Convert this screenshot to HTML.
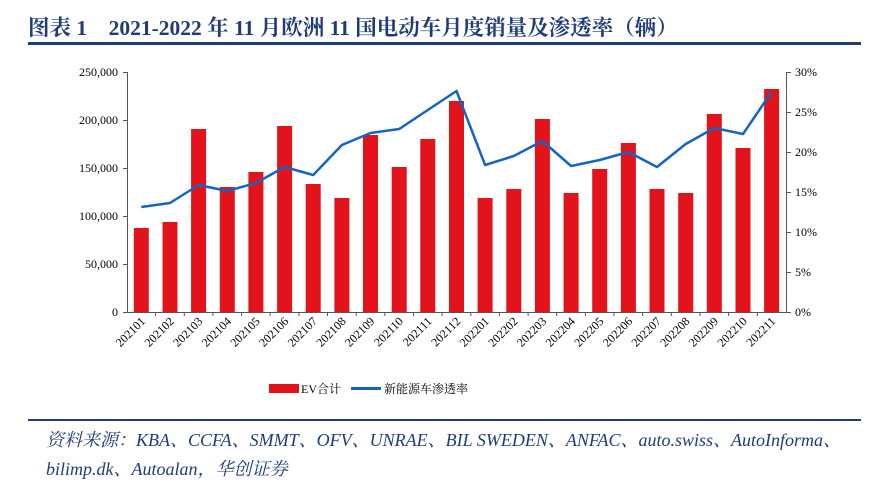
<!DOCTYPE html>
<html><head><meta charset="utf-8"><style>
body{margin:0;background:#fff;width:886px;height:494px;overflow:hidden}
svg{display:block}
.t{font-family:"Liberation Serif","Noto Serif CJK SC",serif;font-size:12px;fill:#000}
</style></head><body>
<svg width="886" height="494" xmlns="http://www.w3.org/2000/svg">
<text x="28" y="35" font-family="'Liberation Serif','Noto Serif CJK SC',serif" font-size="21.5" font-weight="bold" fill="#1f3c78">图表 1　2021-2022 年 11 月欧洲 11 国电动车月度销量及渗透率（辆）</text>
<rect x="28" y="42" width="833" height="3" fill="#1f3c78"/>
<g fill="#e3131b">
<rect x="133.8" y="228" width="15" height="84"/>
<rect x="162.5" y="222" width="15" height="90"/>
<rect x="191.1" y="129" width="15" height="183"/>
<rect x="219.8" y="187" width="15" height="125"/>
<rect x="248.4" y="172" width="15" height="140"/>
<rect x="277.1" y="126" width="15" height="186"/>
<rect x="305.7" y="184" width="15" height="128"/>
<rect x="334.4" y="198" width="15" height="114"/>
<rect x="363" y="135" width="15" height="177"/>
<rect x="391.7" y="167" width="15" height="145"/>
<rect x="420.3" y="139" width="15" height="173"/>
<rect x="449" y="101" width="15" height="211"/>
<rect x="477.6" y="198" width="15" height="114"/>
<rect x="506.3" y="189" width="15" height="123"/>
<rect x="534.9" y="119" width="15" height="193"/>
<rect x="563.6" y="193" width="15" height="119"/>
<rect x="592.2" y="169" width="15" height="143"/>
<rect x="620.9" y="143" width="15" height="169"/>
<rect x="649.5" y="189" width="15" height="123"/>
<rect x="678.2" y="193" width="15" height="119"/>
<rect x="706.8" y="114" width="15" height="198"/>
<rect x="735.5" y="148" width="15" height="164"/>
<rect x="764.1" y="89" width="15" height="223"/>
</g>
<polyline fill="none" stroke="#1565c0" stroke-width="2.5" stroke-linejoin="round" points="141.3,207 170,203 198.6,185 227.3,191 255.9,183 284.6,167 313.2,175 341.9,145 370.5,133 399.2,129 427.8,110 456.5,91 485.1,165 513.8,156 542.4,141 571.1,166 599.7,160 628.4,152 657,167 685.7,144 714.3,128 743,134 771.6,92"/>
<g stroke="#555" stroke-width="1" fill="none">
<line x1="127.5" y1="72" x2="127.5" y2="312"/>
<line x1="786.5" y1="72" x2="786.5" y2="312"/>
<line x1="127" y1="312.5" x2="787" y2="312.5"/>
<path d="M123 72.5h4M123 120.5h4M123 168.5h4M123 216.5h4M123 264.5h4M123 312.5h4"/>
<path d="M787 72.5h4M787 112.5h4M787 152.5h4M787 192.5h4M787 232.5h4M787 272.5h4M787 312.5h4"/>
<path d="M155.6 312v4M184.3 312v4M212.9 312v4M241.6 312v4M270.2 312v4M298.9 312v4M327.5 312v4M356.2 312v4M384.8 312v4M413.5 312v4M442.1 312v4M470.8 312v4M499.4 312v4M528.1 312v4M556.7 312v4M585.4 312v4M614 312v4M642.7 312v4M671.3 312v4M700 312v4M728.6 312v4M757.3 312v4"/>
</g>
<g class="t" text-anchor="end">
<text x="118" y="76">250,000</text><text x="118" y="124">200,000</text><text x="118" y="172">150,000</text><text x="118" y="220">100,000</text><text x="118" y="268">50,000</text><text x="118" y="316">0</text>
</g>
<g class="t">
<text x="795" y="76">30%</text><text x="795" y="116">25%</text><text x="795" y="156">20%</text><text x="795" y="196">15%</text><text x="795" y="236">10%</text><text x="795" y="276">5%</text><text x="795" y="316">0%</text>
</g>
<g class="t" text-anchor="end" font-size="11.5">
<text transform="translate(146,322) rotate(-45)">202101</text>
<text transform="translate(174.7,322) rotate(-45)">202102</text>
<text transform="translate(203.3,322) rotate(-45)">202103</text>
<text transform="translate(232,322) rotate(-45)">202104</text>
<text transform="translate(260.6,322) rotate(-45)">202105</text>
<text transform="translate(289.3,322) rotate(-45)">202106</text>
<text transform="translate(317.9,322) rotate(-45)">202107</text>
<text transform="translate(346.6,322) rotate(-45)">202108</text>
<text transform="translate(375.2,322) rotate(-45)">202109</text>
<text transform="translate(403.9,322) rotate(-45)">202110</text>
<text transform="translate(432.5,322) rotate(-45)">202111</text>
<text transform="translate(461.2,322) rotate(-45)">202112</text>
<text transform="translate(489.8,322) rotate(-45)">202201</text>
<text transform="translate(518.5,322) rotate(-45)">202202</text>
<text transform="translate(547.1,322) rotate(-45)">202203</text>
<text transform="translate(575.8,322) rotate(-45)">202204</text>
<text transform="translate(604.4,322) rotate(-45)">202205</text>
<text transform="translate(633.1,322) rotate(-45)">202206</text>
<text transform="translate(661.7,322) rotate(-45)">202207</text>
<text transform="translate(690.4,322) rotate(-45)">202208</text>
<text transform="translate(719,322) rotate(-45)">202209</text>
<text transform="translate(747.7,322) rotate(-45)">202210</text>
<text transform="translate(776.3,322) rotate(-45)">202211</text>
</g>
<rect x="269" y="384" width="30" height="9" fill="#e3131b"/>
<text class="t" x="301" y="393">EV合计</text>
<rect x="351" y="387" width="30" height="3" fill="#1565c0"/>
<text class="t" x="384" y="393">新能源车渗透率</text>
<rect x="28" y="419" width="833" height="2" fill="#1f3c78"/>
<g font-family="'Liberation Serif','Noto Serif CJK SC',serif" font-style="italic" font-size="18" fill="#1f3c78">
<text x="46" y="446">资料来源：KBA、CCFA、SMMT、OFV、UNRAE、BIL SWEDEN、ANFAC、auto.swiss、AutoInforma、</text>
<text x="46" y="475">bilimp.dk、Autoalan，华创证券</text>
</g>
</svg>
</body></html>
